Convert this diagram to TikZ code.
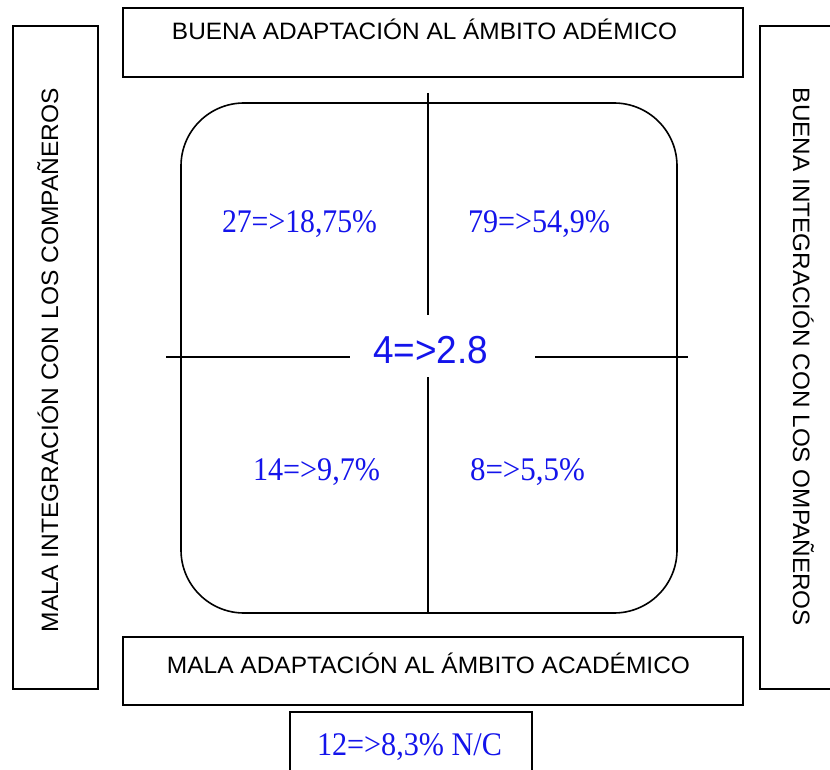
\documentclass[tikz,border=0pt]{standalone}
\usepackage{fontspec}
\setmainfont{Liberation Serif}
\newfontfamily\labfont{Liberation Sans}
\newfontfamily\numfont{Liberation Serif}
\newfontfamily\cenfont{Liberation Sans}
\newcommand{\lab}[2]{\resizebox{#1pt}{\height}{\fontsize{23.7pt}{24pt}\labfont #2}}
\newcommand{\num}[2]{\resizebox{#1pt}{\height}{\fontsize{33pt}{34pt}\numfont #2}}
\begin{document}
\begin{tikzpicture}[x=1pt,y=-1pt,
  box/.style={draw=black, line width=2.4pt, inner sep=0pt, fill=none},
  txt/.style={inner sep=0pt, anchor=base},
  blu/.style={inner sep=0pt, anchor=base, text=numblue},
  ln/.style={draw=black, line width=1.6pt}]
\definecolor{numblue}{RGB}{20,20,235}
\useasboundingbox (0,0) rectangle (830,770);
\fill[white] (0,0) rectangle (830,770);
% boxes
\node[box, minimum width=620pt, minimum height=69pt] (topbox) at (433,42.5) {};
\node[box, minimum width=85pt, minimum height=663pt] (leftbox) at (55.5,357.5) {};
\node[box, minimum width=76pt, minimum height=663pt] (rightbox) at (798,357.5) {};
\node[box, minimum width=620pt, minimum height=68pt] (botbox) at (433,671) {};
\node[box, minimum width=242pt, minimum height=64pt] (ncbox) at (411,744) {};
% labels
\node[txt] (toptext) at (424.5,40) {\lab{505}{BUENA ADAPTACIÓN AL ÁMBITO ADÉMICO}};
\node[txt, rotate=90] (lefttext) at (58,360) {\lab{544}{MALA INTEGRACIÓN CON LOS COMPAÑEROS}};
\node[txt, rotate=-90] (righttext) at (793,357) {\lab{538}{BUENA INTEGRACIÓN CON LOS OMPAÑEROS}};
\node[txt] (bottext) at (428.5,673) {\lab{523}{MALA ADAPTACIÓN AL ÁMBITO ACADÉMICO}};
% rounded square
\node[draw=black, line width=1.6pt, rounded corners=63pt, minimum width=496pt, minimum height=510pt, inner sep=0pt] (quad) at (429,358) {};
% cross
\coordinate (vt1) at (428,93);
\coordinate (vt2) at (428,315);
\coordinate (vb1) at (428,377);
\coordinate (vb2) at (428,614);
\coordinate (hl1) at (166,357);
\coordinate (hl2) at (350,357);
\coordinate (hr1) at (535,357);
\coordinate (hr2) at (688,357);
\draw[ln] (vt1) -- (vt2);
\draw[ln] (vb1) -- (vb2);
\draw[ln] (hl1) -- (hl2);
\draw[ln] (hr1) -- (hr2);
% numbers
\node[blu] (q1) at (299.5,233) {\num{155}{27=>18,75\%}};
\node[blu] (q2) at (539,233) {\num{142}{79=>54,9\%}};
\node[blu] (q3) at (316.5,480) {\num{127}{14=>9,7\%}};
\node[blu] (q4) at (527.5,480) {\num{115}{8=>5,5\%}};
\node[blu] (center) at (430.5,363) {\resizebox{115pt}{\height}{\fontsize{39pt}{40pt}\cenfont 4=>2.8}};
\node[blu] (nc) at (409.5,755) {\num{185}{12=>8,3\% N/C}};
\end{tikzpicture}
\end{document}
